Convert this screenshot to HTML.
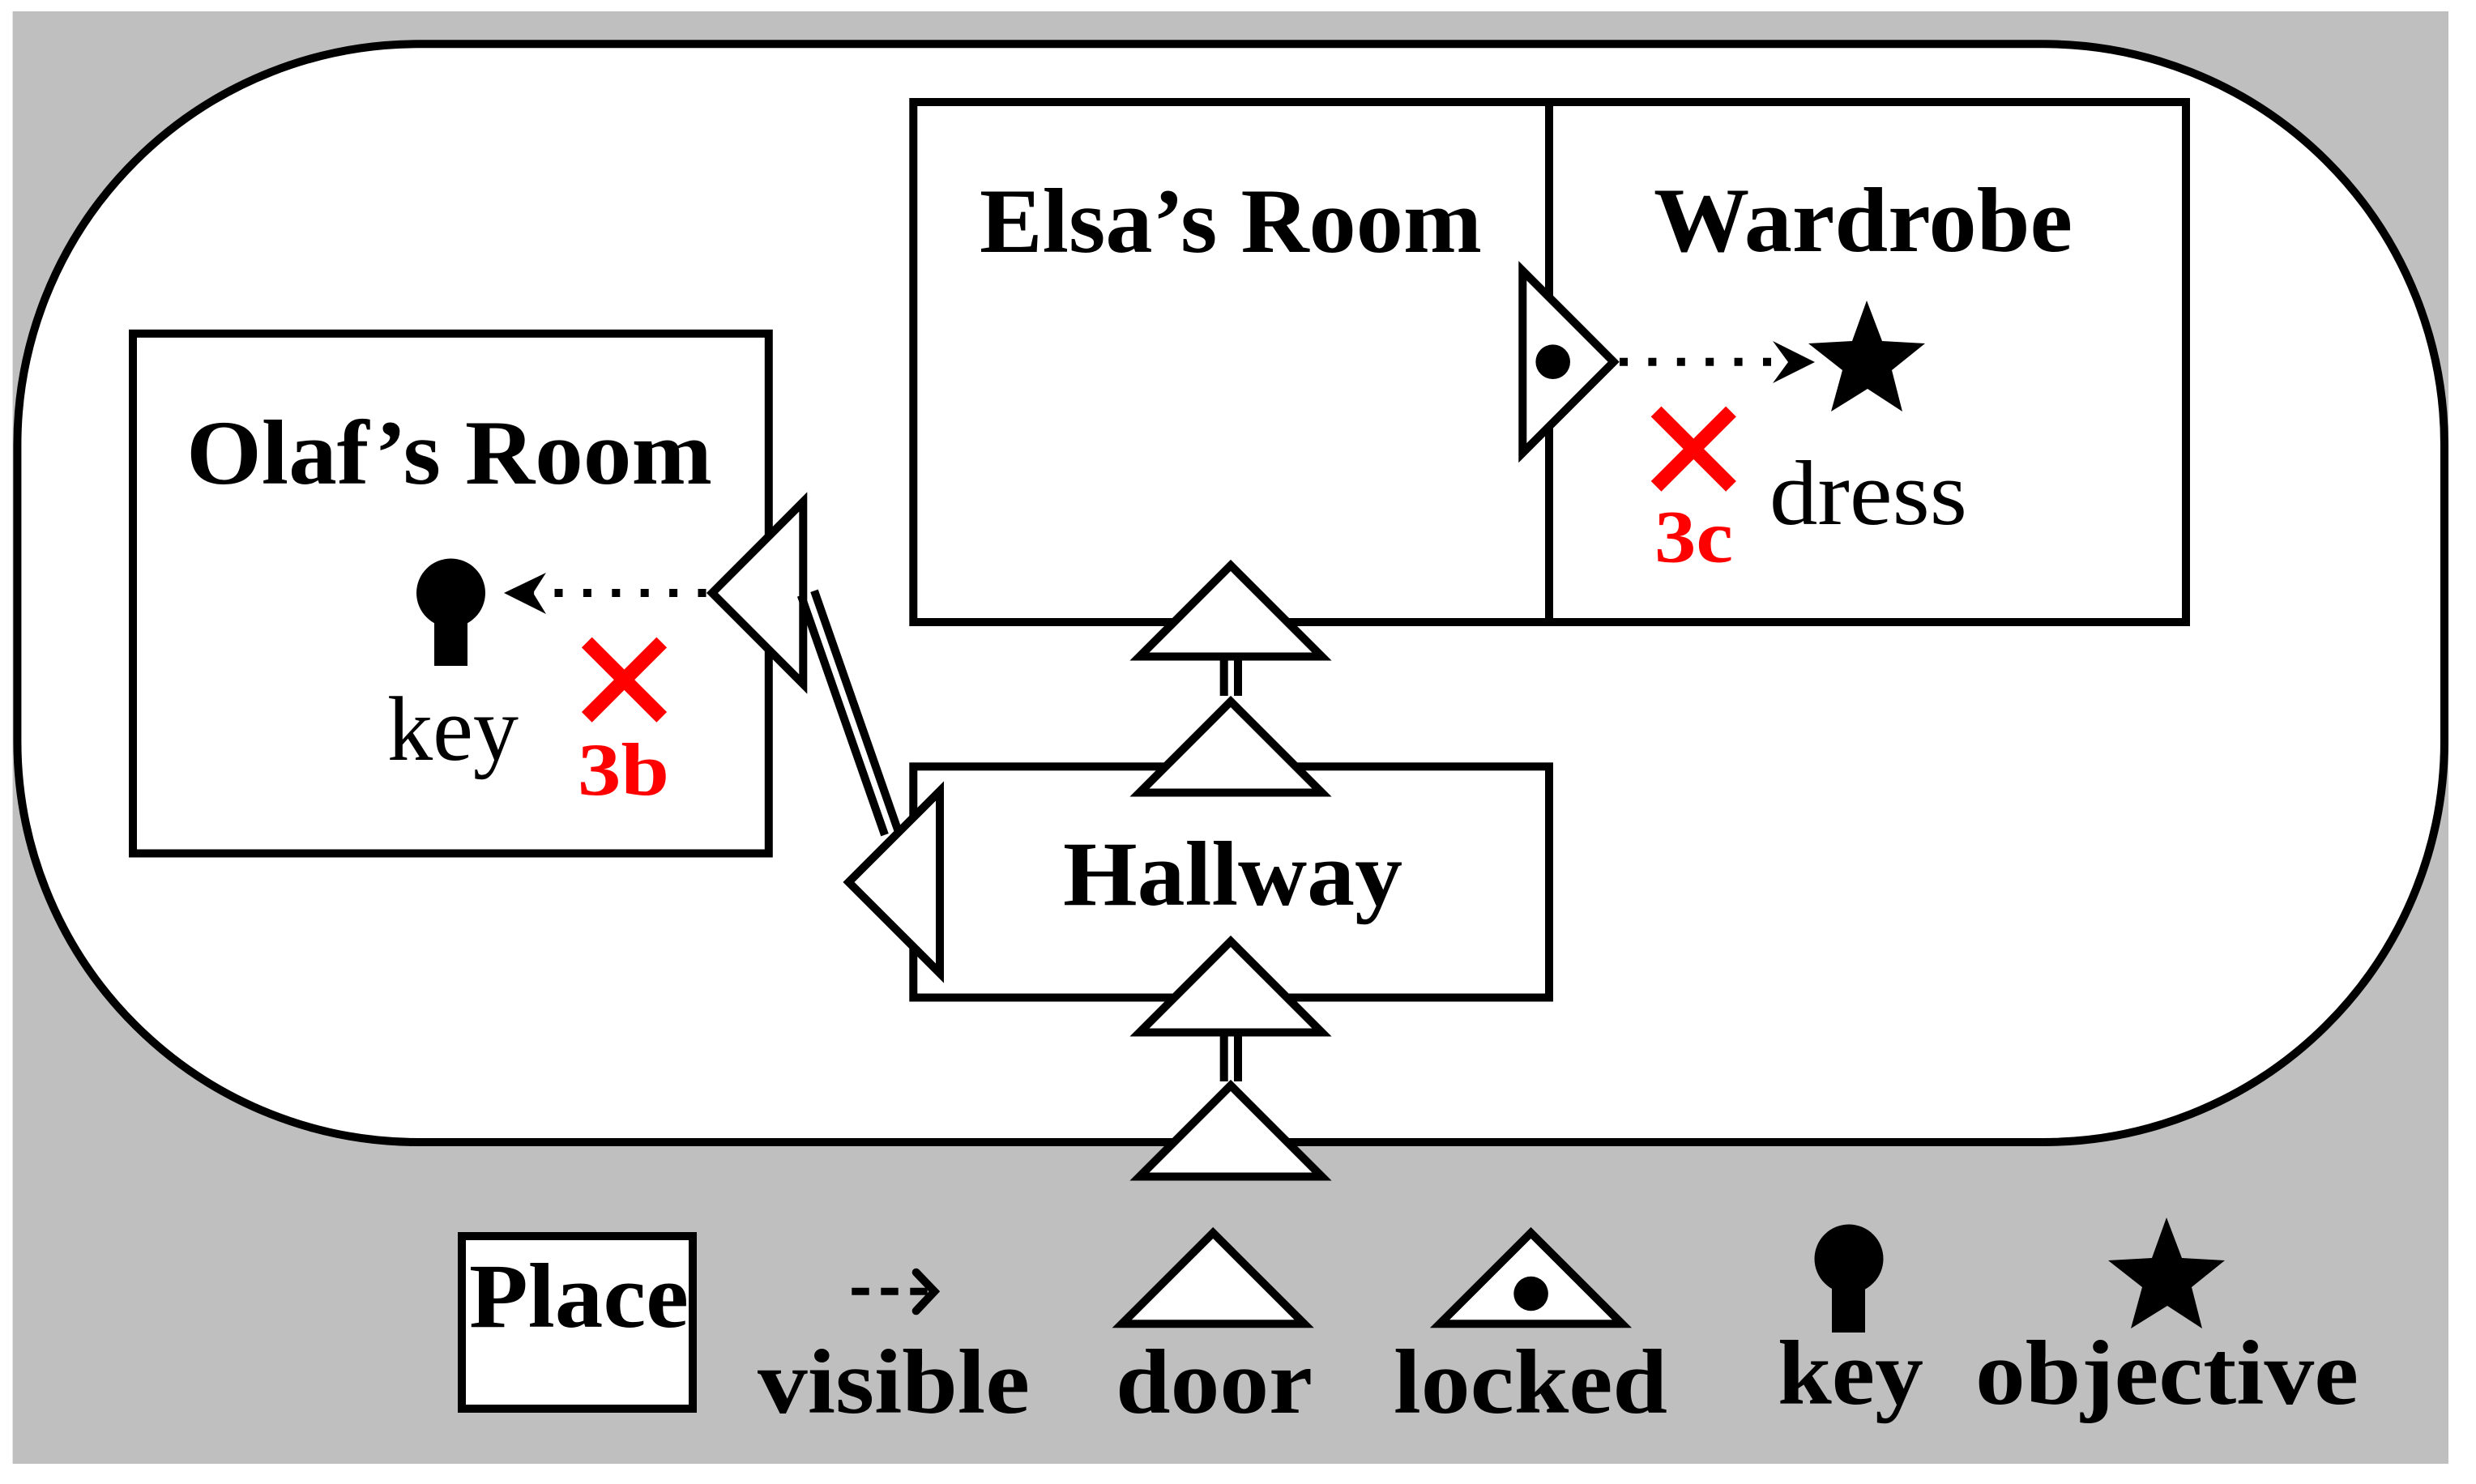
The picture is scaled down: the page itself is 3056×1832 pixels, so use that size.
<!DOCTYPE html>
<html><head><meta charset="utf-8"><style>
html,body{margin:0;padding:0;background:#fff}
svg{display:block}
text{font-family:"Liberation Serif",serif;fill:#000}
.b{font-weight:700;font-size:113px}
.r{font-size:113px}
.red{font-weight:700;font-size:92px;fill:#f00}
</style></head><body>
<svg xmlns="http://www.w3.org/2000/svg" width="3056" height="1832" viewBox="0 0 3056 1832">
<rect x="15.6" y="14" width="3006.4" height="1793" fill="#bfbfbf"/>
<rect x="21.4" y="54.3" width="2995.6" height="1355.7" rx="495" ry="495" fill="#fff" stroke="#000" stroke-width="10"/>
<g fill="#fff" stroke="#000" stroke-width="10" stroke-miterlimit="10">
<rect x="1127.3" y="126" width="784.7" height="642"/>
<rect x="1912" y="126" width="786" height="642"/>
<rect x="164" y="411.8" width="784.8" height="641.7"/>
<rect x="1127.3" y="946.3" width="784.7" height="285.2"/>
<rect x="570" y="1526" width="285" height="213"/>
<polygon points="1406.5,810.5 1631.5,810.5 1519,698"/>
<polygon points="1406.5,978.5 1631.5,978.5 1519,866"/>
<polygon points="1406.5,1274.5 1631.5,1274.5 1519,1162"/>
<polygon points="1406.5,1452.5 1631.5,1452.5 1519,1340"/>
<polygon points="991.3,619.5 991.3,844.5 879,732"/>
<polygon points="1160,976.5 1160,1201.5 1047.5,1089"/>
<polygon points="1879.3,334.2 1879.3,559.2 1991.7,446.7"/>
<polygon points="1384.7,1634.3 1609.7,1634.3 1497.2,1522"/>
<polygon points="1777,1634.3 2002,1634.3 1889.5,1522"/>
</g>
<g stroke="#000" stroke-width="10" fill="none">
<path d="M1510.7 815V859M1528 815V859"/>
<path d="M1510.7 1279V1335M1528 1279V1335"/>
<path d="M988.7 735L1092 1030.7M1005 729.3L1108.3 1025"/>
<path d="M871.5 732H651" stroke-dasharray="10 25.4"/>
<path d="M1999 446.7H2186" stroke-dasharray="10 25.4"/>
<path d="M1051.3 1594.3H1150" stroke-dasharray="21.4 14.6" stroke-width="9"/>
<path d="M1130.7 1570.7L1153.3 1594.3L1130.7 1618.3" stroke-linecap="round" stroke-width="10"/>
</g>
<g fill="#000">
<polygon points="622,732 674,707 658,732 674,758"/>
<polygon points="2240,447 2188,421 2207,447 2188,473"/>
<circle cx="1916.7" cy="446.7" r="21.3"/>
<circle cx="1889.6" cy="1597" r="21.3"/>
<circle cx="556.5" cy="732" r="42.5"/>
<rect x="536" y="760" width="41" height="62"/>
<circle cx="2282" cy="1554" r="42.5"/>
<rect x="2261" y="1582" width="41" height="63"/>
<polygon points="2304,371 2323,421 2376,424 2335,457 2348,508 2305,480 2260,508 2274,457 2232,424 2286,421"/>
<polygon points="2674,1503 2693,1553 2746,1556 2705,1589 2718,1640 2675,1612 2630,1640 2644,1589 2602,1556 2656,1553"/>
</g>
<g stroke="#f00" stroke-width="18" fill="none">
<path d="M724.3 793L816.7 885.4M816.7 793L724.3 885.4"/>
<path d="M2044.1 508L2136.5 600.4M2136.5 508L2044.1 600.4"/>
</g>
<text class="b" x="1209" y="311" textLength="620" lengthAdjust="spacingAndGlyphs">Elsa’s Room</text>
<text class="b" x="2041" y="310" textLength="517" lengthAdjust="spacingAndGlyphs">Wardrobe</text>
<text class="b" x="230" y="597" textLength="649" lengthAdjust="spacingAndGlyphs">Olaf’s Room</text>
<text class="b" x="1312" y="1117" textLength="419" lengthAdjust="spacingAndGlyphs">Hallway</text>
<text class="r" x="2184" y="647" textLength="244" lengthAdjust="spacingAndGlyphs">dress</text>
<text class="r" x="478" y="938" textLength="162" lengthAdjust="spacingAndGlyphs">key</text>
<text class="red" x="713" y="981" textLength="113" lengthAdjust="spacingAndGlyphs">3b</text>
<text class="red" x="2042" y="693.5" textLength="97" lengthAdjust="spacingAndGlyphs">3c</text>
<text class="b" x="579" y="1638" textLength="271" lengthAdjust="spacingAndGlyphs">Place</text>
<text class="b" x="935" y="1744" textLength="336" lengthAdjust="spacingAndGlyphs">visible</text>
<text class="b" x="1377" y="1744" textLength="243" lengthAdjust="spacingAndGlyphs">door</text>
<text class="b" x="1720" y="1744" textLength="338" lengthAdjust="spacingAndGlyphs">locked</text>
<text class="b" x="2194" y="1733" textLength="180" lengthAdjust="spacingAndGlyphs">key</text>
<text class="b" x="2438" y="1733" textLength="473" lengthAdjust="spacingAndGlyphs">objective</text>
</svg>
</body></html>
